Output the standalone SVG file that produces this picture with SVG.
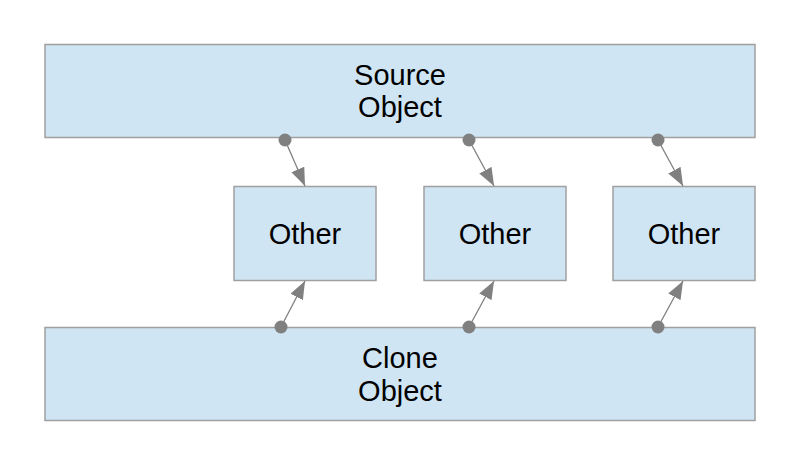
<svg xmlns="http://www.w3.org/2000/svg" width="800" height="460" viewBox="0 0 800 460">
<style>
.box{fill:#cfe5f3;stroke:#a0a0a0;stroke-width:1.5}
.t{font-family:"Liberation Sans",Arial,sans-serif;font-size:29px;fill:#000;text-anchor:middle}
.c{stroke:#808080;stroke-width:1.3;fill:none}
.d{fill:#808080}
</style>
<defs>
<marker id="ah" viewBox="0 0 18 14" refX="18" refY="7" markerWidth="18" markerHeight="14" markerUnits="userSpaceOnUse" orient="auto">
<path d="M0,0 L18,7 L0,14 Z" fill="#808080"/>
</marker>
</defs>
<rect width="800" height="460" fill="#fff"/>
<g id="source"><rect class="box" x="45" y="44.5" width="710" height="93"/><text class="t" x="400" y="85">Source</text><text class="t" x="400" y="117">Object</text></g>
<g id="other1"><rect class="box" x="234" y="186.5" width="142" height="94"/><text class="t" x="305" y="244">Other</text></g>
<g id="other2"><rect class="box" x="424" y="186.5" width="142" height="94"/><text class="t" x="495" y="244">Other</text></g>
<g id="other3"><rect class="box" x="613" y="186.5" width="142" height="94"/><text class="t" x="684" y="244">Other</text></g>
<g id="clone"><rect class="box" x="45" y="327.5" width="710" height="93"/><text class="t" x="400" y="368">Clone</text><text class="t" x="400" y="401">Object</text></g>
<g id="connectors">
<line class="c" x1="285" y1="140" x2="305" y2="186" marker-end="url(#ah)"/>
<line class="c" x1="469" y1="140" x2="494" y2="186" marker-end="url(#ah)"/>
<line class="c" x1="658" y1="140" x2="683" y2="186" marker-end="url(#ah)"/>
<line class="c" x1="281" y1="327" x2="305" y2="281" marker-end="url(#ah)"/>
<line class="c" x1="469" y1="327" x2="494" y2="281" marker-end="url(#ah)"/>
<line class="c" x1="658" y1="327" x2="683" y2="281" marker-end="url(#ah)"/>
<circle class="d" cx="285" cy="140" r="6.5"/>
<circle class="d" cx="469" cy="140" r="6.5"/>
<circle class="d" cx="658" cy="140" r="6.5"/>
<circle class="d" cx="281" cy="327" r="6.5"/>
<circle class="d" cx="469" cy="327" r="6.5"/>
<circle class="d" cx="658" cy="327" r="6.5"/>
</g>
</svg>
